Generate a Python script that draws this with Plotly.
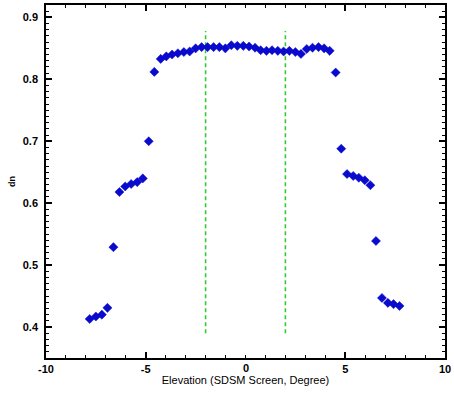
import plotly.graph_objects as go

# Elevation angle (degrees) and measured dn values
elevation = [
    -7.81, -7.50, -7.20, -6.92, -6.62, -6.32, -6.03, -5.73, -5.43, -5.15,
    -4.85, -4.57, -4.25, -3.97, -3.68, -3.39, -3.09, -2.80, -2.50, -2.20,
    -1.90, -1.60, -1.31, -1.01, -0.71, -0.41, -0.11, 0.18, 0.48, 0.76,
    1.05, 1.33, 1.62, 1.91, 2.20, 2.50, 2.78, 3.07, 3.36, 3.66,
    3.94, 4.22, 4.52, 4.80, 5.09, 5.40, 5.68, 5.98, 6.26, 6.54,
    6.84, 7.14, 7.42, 7.72,
]
dn = [
    0.413, 0.417, 0.420, 0.431, 0.529, 0.618, 0.627, 0.631, 0.634, 0.640,
    0.700, 0.812, 0.833, 0.837, 0.840, 0.842, 0.844, 0.845, 0.850, 0.852,
    0.852, 0.852, 0.852, 0.850, 0.855, 0.854, 0.854, 0.853, 0.851, 0.847,
    0.846, 0.847, 0.846, 0.845, 0.846, 0.844, 0.841, 0.849, 0.851, 0.852,
    0.850, 0.846, 0.811, 0.688, 0.647, 0.644, 0.641, 0.637, 0.629, 0.539,
    0.447, 0.439, 0.437, 0.434,
]

# Boundaries of the central region
boundary_x = [-2.0, 2.0]
boundary_y = [0.39, 0.878]

x_tick_vals = [-10, -5, 0, 5, 10]
x_tick_text = ["-10", "-5", "0", "5", "10"]
y_tick_vals = [0.4, 0.5, 0.6, 0.7, 0.8, 0.9]
y_tick_text = ["0.4", "0.5", "0.6", "0.7", "0.8", "0.9"]

tick_font = dict(family="Liberation Sans", size=11, color="black", weight="bold")

fig = go.Figure()

for bx in boundary_x:
    fig.add_trace(go.Scatter(
        x=[bx, bx], y=boundary_y, mode="lines",
        line=dict(color="#33cc33", width=1.6, dash="4px,3px"),
        showlegend=False, hoverinfo="skip",
    ))

fig.add_trace(go.Scatter(
    x=elevation, y=dn, mode="markers",
    marker=dict(symbol="diamond", size=7, color="#0a0acc",
                line=dict(width=0.5, color="#0a0acc")),
    showlegend=False,
))

axis_common = dict(
    showgrid=False, zeroline=False,
    showline=True, linecolor="black", linewidth=1.5,
    mirror="allticks", ticks="inside", ticklen=6, tickwidth=1.5,
    tickcolor="black", tickfont=tick_font,
)

# Plotly skips the centre x label when ticks sit inside the frame,
# so that label is written next to the axis as an annotation.
centre = [(v, t) for v, t in zip(x_tick_vals, x_tick_text) if v == 0]
axis_x = [(v, t) for v, t in zip(x_tick_vals, x_tick_text) if v != 0]

fig.update_layout(
    width=454, height=394,
    margin=dict(l=46, r=5, t=3, b=36),
    paper_bgcolor="white", plot_bgcolor="white",
    xaxis=dict(
        range=[-10, 10], tickmode="array",
        tickvals=[v for v, _ in axis_x], ticktext=[t for _, t in axis_x],
        minor=dict(dtick=1, ticks="inside", ticklen=3,
                   tickwidth=1, tickcolor="black"),
        title=dict(text="Elevation (SDSM Screen, Degree)",
                   font=dict(family="Liberation Sans", size=11, color="black"),
                   standoff=2),
        ticklabeloverflow="allow",
        **axis_common,
    ),
    yaxis=dict(
        range=[0.35, 0.92], tickmode="array",
        tickvals=y_tick_vals, ticktext=y_tick_text,
        minor=dict(dtick=0.01, ticks="inside", ticklen=3,
                   tickwidth=1, tickcolor="black"),
        title=dict(text="dn",
                   font=dict(family="Liberation Sans", size=9, color="black",
                             weight="bold"),
                   standoff=6),
        ticklabelstandoff=4,
        **axis_common,
    ),
)

for v, t in centre:
    fig.add_annotation(
        x=v, y=0, xref="x", yref="paper", yanchor="top", yshift=-2,
        text=t, showarrow=False, font=tick_font,
    )

fig.write_html("out.html")
